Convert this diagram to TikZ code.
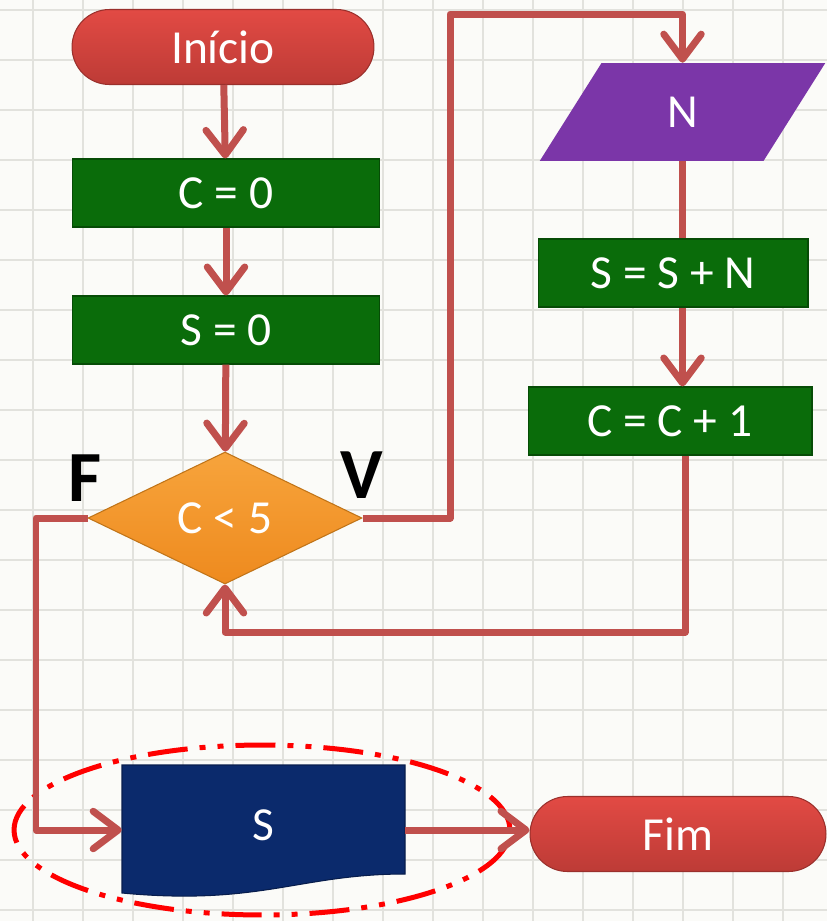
\documentclass[tikz,border=0pt]{standalone}
\usepackage{fontspec}
\setmainfont{Carlito}
\usetikzlibrary{positioning,shapes.geometric,arrows.meta}

\definecolor{paper}{HTML}{FBFBF8}
\definecolor{gridgray}{HTML}{E2E2DD}
\definecolor{linered}{HTML}{C0504D}
\definecolor{termtop}{HTML}{E24A44}
\definecolor{termbot}{HTML}{BD3B36}
\definecolor{termedge}{HTML}{9A302C}
\definecolor{procgreen}{HTML}{0A6C0A}
\definecolor{procedge}{HTML}{064C06}
\definecolor{condtop}{HTML}{F7A43C}
\definecolor{condbot}{HTML}{EE8A1E}
\definecolor{condedge}{HTML}{C07418}
\definecolor{inpurple}{HTML}{7B36A8}
\definecolor{docblue}{HTML}{0B2A6C}

\begin{document}
\begin{tikzpicture}[x=0.02cm, y=-0.02cm,
	every node/.style={text=white, font=\fontsize{27}{32}\selectfont, inner sep=0pt},
	terminal/.style={rectangle, rounded corners=0.75cm, draw=termedge, line width=0.6pt, top color=termtop, bottom color=termbot, minimum width=6.04cm, minimum height=1.5cm},
	process/.style={rectangle, draw=procedge, line width=0.6pt, fill=procgreen, minimum height=1.36cm},
	decision/.style={diamond, draw=condedge, line width=0.6pt, top color=condtop, bottom color=condbot, minimum width=5.48cm, minimum height=2.64cm},
	inout/.style={trapezium, trapezium left angle=69, trapezium right angle=111, trapezium stretches=true, fill=inpurple, minimum width=5.72cm, minimum height=1.96cm},
	flag/.style={text=black, font=\fontsize{41}{45}\selectfont\bfseries},
	flow/.style={draw=linered, line width=0.14cm, line join=round, -{Straight Barb[length=0.5cm,width=0.75cm,round]}},
	wire/.style={draw=linered, line width=0.14cm, line join=round}]

	% paper and grid
	\fill[paper] (0,0) rectangle (827,921);
	\useasboundingbox (0,0) rectangle (827,921);
	\foreach \x in {33,83,...,833} \draw[gridgray, line width=0.03cm] (\x,0) -- (\x,921);
	\foreach \y in {10,60,...,910} \draw[gridgray, line width=0.03cm] (0,\y) -- (827,\y);

	% left column
	\node[terminal] (start) at (223,47) {Início};
	\node[process, minimum width=6.16cm] (c0) at (226,193) {C = 0};
	\node[process, minimum width=6.16cm] (s0) at (226,330) {S = 0};
	\node[decision] (cond) at (225,518) {C < 5};
	\node[flag] (f) at (85,478) {F};
	\node[flag] (v) at (362,475) {V};

	% right column
	\node[inout] (readn) at (682.5,112) {N};
	\node[process, minimum width=5.4cm] (sum) at (673,273) {S = S + N};
	\node[process, minimum width=5.68cm] (inc) at (670,421) {C = C + 1};

	% output and end
	\fill[docblue, draw=docblue!70!black, line width=0.6pt] (122,765) -- (405,765) -- (405,874)
		.. controls (300,874) and (260,906) .. (122,893) -- cycle;
	\node[minimum width=5.66cm, minimum height=2.6cm] (doc) at (263.5,830) {\raisebox{0.18cm}{S}};
	\node[terminal, minimum width=5.92cm] (stop) at (678,834) {Fim};
	\draw[red, line width=0.1cm, dash pattern=on 0.8cm off 0.24cm on 0.12cm off 0.24cm on 0.12cm off 0.24cm]
		(262,830) ellipse [x radius=4.96cm, y radius=1.7cm];

	\coordinate (vtop) at (450,14);
	\coordinate (loopc) at (685,632);
	\coordinate (fcorner) at (36,830);

	\draw[flow] (start) -- (c0);
	\draw[flow] (c0) -- (s0);
	\draw[flow] (s0) -- (cond);
	\draw[flow] (cond.east) -| (vtop) -| (readn.north);
	\draw[wire] (readn.south) -- (readn.south |- sum.north);
	\draw[flow] (sum.south -| readn.south) -- (inc.north -| readn.south);
	\draw[flow] (inc.south -| loopc) -- (loopc) -| (cond.south);
	\draw[flow] (cond.west) -| (fcorner) -- (doc.west);
	\draw[flow] (doc.east) -- (doc.east -| stop.west);
\end{tikzpicture}
\end{document}
